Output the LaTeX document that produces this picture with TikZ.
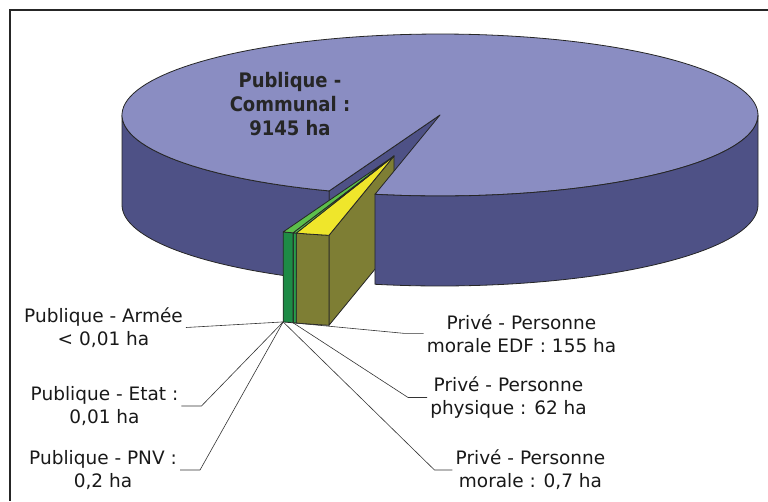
\documentclass[tikz,border=0pt]{standalone}
\usepackage{fontspec}
\setmainfont{DejaVu Sans}
\newfontfamily\condsans{DejaVu Sans Condensed}
\definecolor{pietop}{RGB}{138,141,194}
\definecolor{pieside}{RGB}{78,81,134}
\definecolor{edftop}{RGB}{239,230,43}
\definecolor{edfside}{RGB}{126,126,52}
\definecolor{physside}{RGB}{30,139,70}
\definecolor{thinside}{RGB}{40,158,74}
\definecolor{greentop}{RGB}{92,191,75}

\begin{document}
\begin{tikzpicture}[x=1pt,y=-1pt,
    edge/.style={draw=black!85, line width=0.8pt, line join=round},
    leader/.style={draw=black!80, line width=0.6pt},
    lbl/.style={align=center, inner sep=3pt, text=black!90,
        font=\fontsize{18.5}{23}\selectfont}]

    \useasboundingbox (0,0) rectangle (768,501);
    \draw[line width=2pt, black!85] (768,10) -- (10,10) -- (10,501);

    % back parts of the large slice
    \filldraw[edge, fill=pieside]
        plot[domain=110.4:180, samples=40, variable=\t] ({440+318*cos(\t)},{115+81*sin(\t)})
        -- plot[domain=180:110.4, samples=40, variable=\t] ({440+318*cos(\t)},{205+81*sin(\t)})
        -- cycle;
    \filldraw[edge, fill=pieside] (440,115) -- ({440+318*cos(110.4)},{115+81*sin(110.4)})
        -- ++(0,90) -- (440,205) -- cycle;

    % pulled-out slices
    \begin{scope}[shift={(-46,41)}]
        \filldraw[edge, fill=edfside] (440,115) -- ({440+318*cos(101.8)},{115+81*sin(101.8)})
            -- ++(0,90) -- (440,205) -- cycle;

        \filldraw[edge, fill=edfside]
            plot[domain=101.8:107.9, samples=10, variable=\t] ({440+318*cos(\t)},{115+81*sin(\t)})
            -- plot[domain=107.9:101.8, samples=10, variable=\t] ({440+318*cos(\t)},{205+81*sin(\t)})
            -- cycle;
        \filldraw[edge, fill=thinside]
            plot[domain=107.9:108.5, samples=3, variable=\t] ({440+318*cos(\t)},{115+81*sin(\t)})
            -- plot[domain=108.5:107.9, samples=3, variable=\t] ({440+318*cos(\t)},{205+81*sin(\t)})
            -- cycle;
        \filldraw[edge, fill=physside]
            plot[domain=108.5:110.4, samples=5, variable=\t] ({440+318*cos(\t)},{115+81*sin(\t)})
            -- plot[domain=110.4:108.5, samples=5, variable=\t] ({440+318*cos(\t)},{205+81*sin(\t)})
            -- cycle;

        \filldraw[edge, fill=edftop] (440,115)
            -- plot[domain=101.8:107.9, samples=10, variable=\t] ({440+318*cos(\t)},{115+81*sin(\t)}) -- cycle;
        \filldraw[edge, fill=greentop] (440,115)
            -- plot[domain=107.9:108.5, samples=3, variable=\t] ({440+318*cos(\t)},{115+81*sin(\t)}) -- cycle;
        \filldraw[edge, fill=greentop] (440,115)
            -- plot[domain=108.5:110.4, samples=5, variable=\t] ({440+318*cos(\t)},{115+81*sin(\t)}) -- cycle;

        \coordinate (footA) at ({440+318*cos(110.4)},{205+81*sin(110.4)});
        \coordinate (footB) at ({440+318*cos(108.5)},{205+81*sin(108.5)});
    \end{scope}

    % top and front of the large slice
    \filldraw[edge, fill=pietop] (440,115)
        -- plot[domain=110.4:461.8, samples=150, variable=\t] ({440+318*cos(\t)},{115+81*sin(\t)})
        -- cycle;
    \filldraw[edge, fill=pieside]
        plot[domain=0:101.8, samples=50, variable=\t] ({440+318*cos(\t)},{115+81*sin(\t)})
        -- plot[domain=101.8:0, samples=50, variable=\t] ({440+318*cos(\t)},{205+81*sin(\t)})
        -- cycle;

    \node[align=center, text=black!85, font=\condsans\bfseries\fontsize{20}{24}\selectfont]
        (communal) at (290,104) {Publique -\\Communal :\\9145 ha};

    \node[lbl] (armee) at (103.5,327.5) {Publique - Armée\\< 0,01 ha};
    \node[lbl] (etat) at (104.5,406) {Publique - Etat :\\0,01 ha};
    \node[lbl] (pnv) at (103,470) {Publique - PNV :\\0,2 ha};
    \node[lbl] (edf) at (521.5,333.3) {Privé - Personne\\morale EDF : 155 ha};
    \node[lbl] (physique) at (508.5,397.5) {Privé - Personne\\physique : 62 ha};
    \node[lbl] (morale) at (530.5,470) {Privé - Personne\\morale : 0,7 ha};

    \draw[leader] (footA) -- (armee.east);
    \draw[leader] (footA) -- ([xshift=20pt]etat.east) -- (etat.east);
    \draw[leader] (footA) -- ([xshift=20pt]pnv.east) -- (pnv.east);
    \draw[leader] (footA) -- ([xshift=-18pt]morale.west) -- (morale.west);
    \draw[leader] (footB) -- ([xshift=-19pt]physique.west) -- (physique.west);
    \draw[leader] (footB) -- ([xshift=-20pt]edf.west) -- (edf.west);

\end{tikzpicture}
\end{document}
